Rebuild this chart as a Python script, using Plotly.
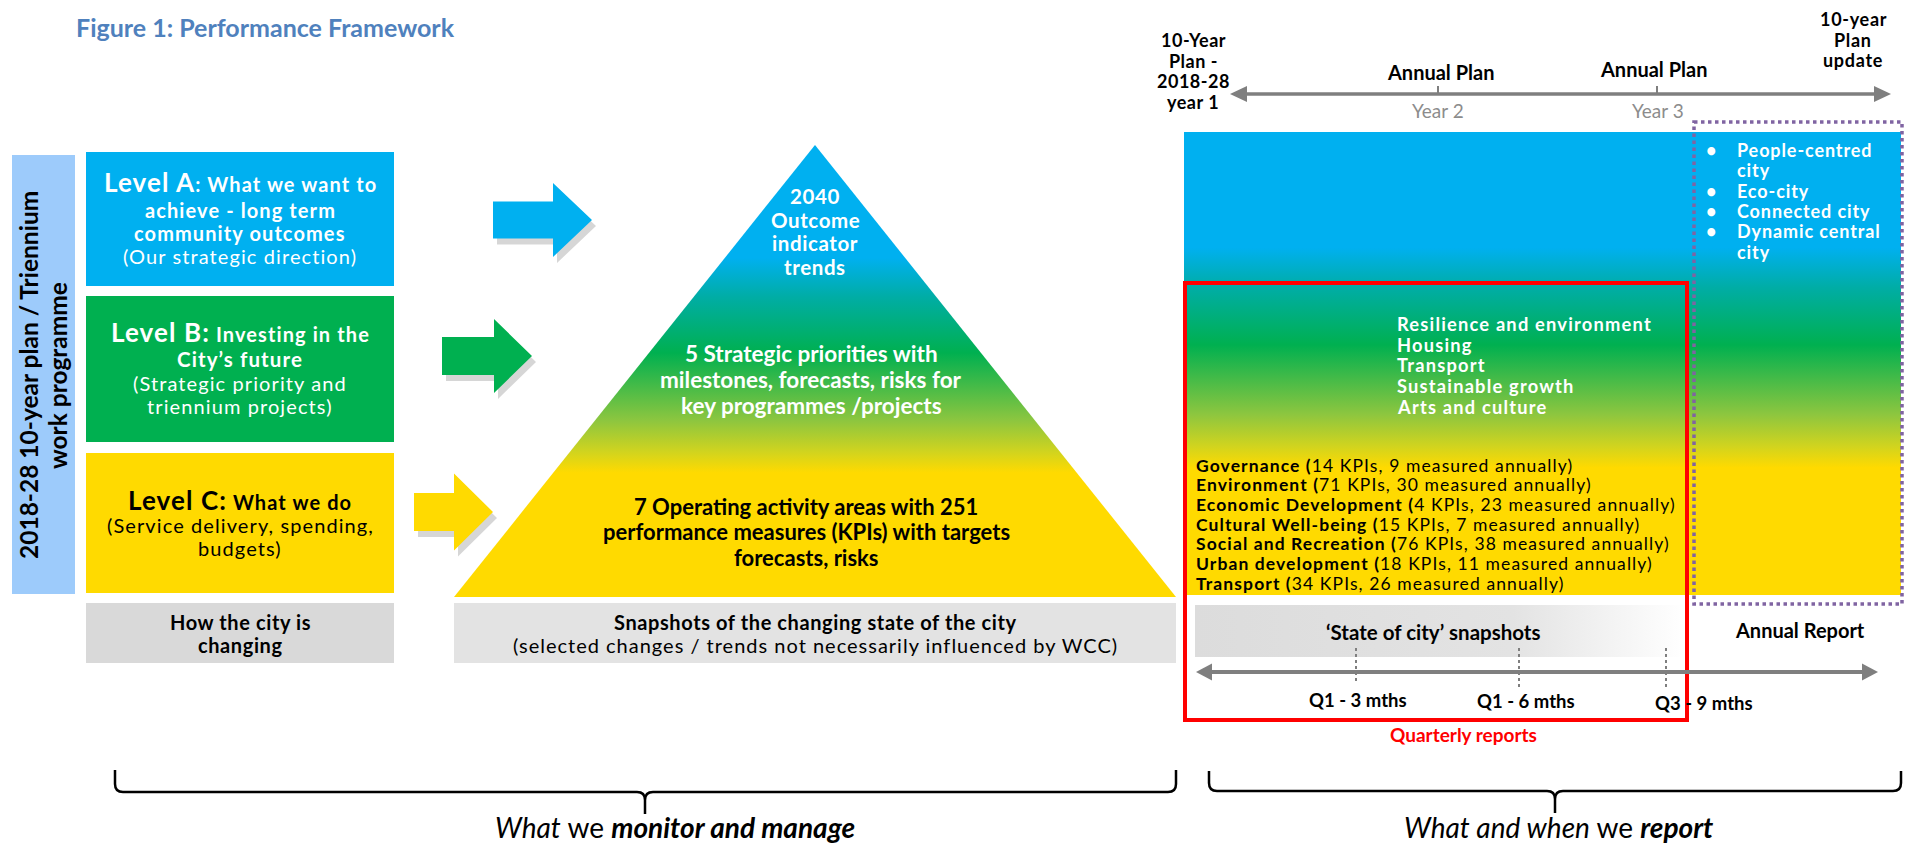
import plotly.graph_objects as go

W, H = 1905, 848
FONT = "Lato"

# ---------------- text content / values ----------------
TITLE = "Figure 1: Performance Framework"
SIDE_LABEL = ["2018-28 10-year plan / Triennium", "work programme"]

LEVEL_LABELS = ["Level A", "Level B", "Level C"]
LEVEL_A_LINES = ["What we want to", "achieve - long term", "community outcomes", "(Our strategic direction)"]
LEVEL_B_LINES = ["Investing in the", "City’s future", "(Strategic priority and", "triennium projects)"]
LEVEL_C_LINES = ["What we do", "(Service delivery, spending,", "budgets)"]
CHANGE_LINES = ["How the city is", "changing"]

PYR_TOP = ["2040", "Outcome", "indicator", "trends"]
PYR_MID = ["5 Strategic priorities with", "milestones, forecasts, risks for", "key programmes /projects"]
PYR_BOT = ["7 Operating activity areas with 251", "performance measures (KPIs) with targets", "forecasts, risks"]
SNAP_LINES = ["Snapshots of the changing state of the city",
              "(selected changes / trends not necessarily influenced by WCC)"]

PLAN_START = ["10-Year", "Plan -", "2018-28", "year 1"]
PLAN_UPDATE = ["10-year", "Plan", "update"]
ANNUAL_PLAN = ["Annual Plan", "Annual Plan"]
PLAN_YEARS = ["Year 2", "Year 3"]

OUTCOME_AREAS = [["People-centred", "city"], ["Eco-city"], ["Connected city"], ["Dynamic central", "city"]]
STRATEGIC_PRIORITIES = ["Resilience and environment", "Housing", "Transport", "Sustainable growth", "Arts and culture"]

KPI_AREAS = ["Governance", "Environment", "Economic Development", "Cultural Well-being",
             "Social and Recreation", "Urban development", "Transport"]
KPI_TOTAL = [14, 71, 4, 15, 76, 18, 34]
KPI_ANNUAL = [9, 30, 23, 7, 38, 11, 26]

STATE_LABEL = "‘State of city’ snapshots"
ANNUAL_REPORT = "Annual Report"
QUARTERS = ["Q1 - 3 mths", "Q1 - 6 mths", "Q3 - 9 mths"]
QUARTERLY = "Quarterly reports"
BOTTOM_LEFT = "<i>What</i> we <b><i>monitor and manage</i></b>"
BOTTOM_RIGHT = "<i>What and when</i> we <b><i>report</i></b>"

# ---------------- colours ----------------
BLUE, GREEN, YELLOW = "#00B0F0", "#00B050", "#FFDA00"
GREY_BOX, GREY_BOX2 = "#D9D9D9", "#E3E3E3"
SIDE_BLUE = "#9DCBFB"
AXIS_GREY = "#7F7F7F"
GRAD = [[0, BLUE], [0.25, BLUE], [0.335, "#00ADA6"], [0.46, GREEN], [0.61, "#8DC63F"],
        [0.68, "#D2D41E"], [0.725, YELLOW], [1, YELLOW]]

fig = go.Figure()


def rect(x0, y0, x1, y1, fill, line=None, lw=0, dash=None, layer="below"):
    fig.add_shape(type="rect", x0=x0, x1=x1, y0=y0, y1=y1, xref="x", yref="y",
                  fillcolor=fill, layer=layer,
                  line=dict(width=lw, color=line or "rgba(0,0,0,0)", dash=dash))


def text(t, x, y, size, color="black", anchor="center", angle=0, yanchor="middle", ls=0):
    if ls:
        t = f"<span style='letter-spacing:{ls}px'>{t}</span>"
    fig.add_annotation(x=x, y=y, xref="x", yref="y", text=t, showarrow=False,
                       xanchor=anchor, yanchor=yanchor, textangle=angle,
                       font=dict(family=FONT, size=size, color=color))


def lines(ls_, x, y0, dy, size, color="black", anchor="center", bold=False, ls=0):
    for i, l in enumerate(ls_):
        text(f"<b>{l}</b>" if bold else l, x, y0 + i * dy, size, color, anchor, ls=ls)


def poly(xs, ys, fill=None, grad=None):
    kw = {}
    if grad is not None:
        kw["fillgradient"] = grad
    else:
        kw["fillcolor"] = fill
    fig.add_trace(go.Scatter(x=xs + [xs[0]], y=ys + [ys[0]], mode="lines", fill="toself",
                             line=dict(width=0), hoverinfo="skip", showlegend=False, **kw))


def arrow(x0, xh, x1, yc, bh, hh, color):
    xs = [x0, xh, xh, x1, xh, xh, x0]
    ys = [yc - bh, yc - bh, yc - hh, yc, yc + hh, yc + bh, yc + bh]
    poly([x + 4 for x in xs], [y + 6 for y in ys], fill="rgba(0,0,0,0.16)")
    poly(xs, ys, fill=color)


def brace(x0, x1, xm, yt, ym, yb, r=8):
    p = (f"M {x0},{yt} L {x0},{ym - r} Q {x0},{ym} {x0 + r},{ym} L {xm - r},{ym} "
         f"Q {xm},{ym} {xm},{ym + r} L {xm},{yb} M {xm},{ym + r} Q {xm},{ym} {xm + r},{ym} "
         f"L {x1 - r},{ym} Q {x1},{ym} {x1},{ym - r} L {x1},{yt}")
    fig.add_shape(type="path", path=p, xref="x", yref="y", line=dict(color="black", width=2.5))


def timeline(xa, xb, y, hl, hh, lw):
    fig.add_shape(type="line", x0=xa + hl - 2, x1=xb - hl + 2, y0=y, y1=y, xref="x", yref="y",
                  line=dict(color=AXIS_GREY, width=lw), layer="above")
    for tip, base in ((xa, xa + hl), (xb, xb - hl)):
        fig.add_shape(type="path", path=f"M {tip},{y} L {base},{y - hh} L {base},{y + hh} Z",
                      xref="x", yref="y", fillcolor=AXIS_GREY, line=dict(width=0), layer="above")


# ---------------- title ----------------
text(f"<b>{TITLE}</b>", 74, 27, 25, "#4F81BD", anchor="left")

# ---------------- left column ----------------
rect(12, 155, 75, 594, SIDE_BLUE)
text(f"<b>{SIDE_LABEL[0]}</b>", 28, 375, 24.5, angle=-90)
text(f"<b>{SIDE_LABEL[1]}</b>", 57, 376, 24.5, angle=-90)

rect(86, 152, 394, 286, BLUE)
rect(86, 296, 394, 442, GREEN)
rect(86, 453, 394, 593, YELLOW)
rect(86, 603, 394, 663, GREY_BOX)

LBL = "<span style='font-size:26px'>{}</span>"
LS_BOX = 1.1
text(f"<b>{LBL.format(LEVEL_LABELS[0])}: {LEVEL_A_LINES[0]}</b>", 240, 182, 20, "white", ls=LS_BOX)
lines(LEVEL_A_LINES[1:3], 240, 210, 23, 20, "white", bold=True, ls=LS_BOX)
text(LEVEL_A_LINES[3], 240, 256, 20, "white", ls=LS_BOX)

text(f"<b>{LBL.format(LEVEL_LABELS[1] + ':')} {LEVEL_B_LINES[0]}</b>", 240, 332, 20, "white", ls=LS_BOX)
text(f"<b>{LEVEL_B_LINES[1]}</b>", 240, 359, 20.5, "white", ls=LS_BOX)
lines(LEVEL_B_LINES[2:], 240, 383, 23, 20, "white", ls=LS_BOX)

text(f"<b>{LBL.format(LEVEL_LABELS[2] + ':')} {LEVEL_C_LINES[0]}</b>", 240, 500, 20, "black", ls=LS_BOX)
lines(LEVEL_C_LINES[1:], 240, 525, 23, 20, "black", ls=LS_BOX)

lines(CHANGE_LINES, 240, 622, 23, 20, "black", bold=True, ls=0.6)

# ---------------- arrows ----------------
arrow(493, 553, 592, 220, 18.5, 37, BLUE)
arrow(442, 494, 532, 356, 19, 37, GREEN)
arrow(414, 454, 493, 512, 19, 38.5, YELLOW)

# ---------------- pyramid ----------------
poly([815, 1176, 454], [145, 597, 597],
     grad=dict(type="vertical", colorscale=GRAD, start=145, stop=597))
lines(PYR_TOP, 815, 196, 23.7, 20.5, "white", bold=True, ls=0.6)
lines(PYR_MID, 811, 353, 26, 22.5, "white", bold=True)
lines(PYR_BOT, 806, 506, 25.5, 22, "black", bold=True)

rect(454, 603, 1176, 663, GREY_BOX2)
text(f"<b>{SNAP_LINES[0]}</b>", 815, 622, 20, ls=0.6)
text(SNAP_LINES[1], 815, 645, 20, ls=1.0)

# ---------------- right: top timeline ----------------
timeline(1230, 1891, 94, 17, 8, 3.5)
for xt in (1438, 1657):
    fig.add_shape(type="line", x0=xt, x1=xt, y0=86, y1=94, xref="x", yref="y",
                  line=dict(color=AXIS_GREY, width=2), layer="above")
lines(PLAN_START, 1193, 40, 20.5, 18, bold=True, ls=0.5)
lines(PLAN_UPDATE, 1853, 19, 20.5, 18, bold=True, ls=0.7)
text(f"<b>{ANNUAL_PLAN[0]}</b>", 1440, 72, 20)
text(f"<b>{ANNUAL_PLAN[1]}</b>", 1653, 69, 20)
text(PLAN_YEARS[0], 1438, 110, 19, "#8C8C8C")
text(PLAN_YEARS[1], 1658, 110, 19, "#8C8C8C")

# ---------------- right: gradient panel ----------------
poly([1184, 1901, 1901, 1184], [132, 132, 595, 595],
     grad=dict(type="vertical", colorscale=GRAD, start=132, stop=595))

yb = 150
for item in OUTCOME_AREAS:
    text("<b>•</b>", 1711, yb, 18, "white")
    for j, l in enumerate(item):
        text(f"<b>{l}</b>", 1735, yb, 18, "white", anchor="left", ls=0.9)
        yb += 20.3

lines(STRATEGIC_PRIORITIES, 1395, 324, 20.7, 18.3, "white", anchor="left", bold=True, ls=1.2)

for i, (name, tot, ann) in enumerate(zip(KPI_AREAS, KPI_TOTAL, KPI_ANNUAL)):
    text(f"<b>{name} (</b>{tot} KPIs, {ann} measured annually)", 1194, 465 + i * 19.7, 17.5,
         anchor="left", ls=1.1)

rect(1185, 283, 1687, 720, "rgba(0,0,0,0)", line="#FF0000", lw=4, layer="above")
rect(1694, 122, 1902, 604, "rgba(0,0,0,0)", line="#8064A2", lw=3.5, dash="dot", layer="above")

# ---------------- right: reports ----------------
poly([1195, 1684, 1684, 1195], [605, 605, 657, 657],
     grad=dict(type="horizontal", colorscale=[[0, "#DCDCDC"], [0.65, "#E3E3E3"], [1, "#FFFFFF"]],
               start=1195, stop=1684))
text(f"<b>{STATE_LABEL}</b>", 1433, 632, 20.5)
text(f"<b>{ANNUAL_REPORT}</b>", 1800, 630, 20)

timeline(1196, 1878, 672, 16, 8.5, 4)
for xq, yq in ((1356, 684), (1519, 688), (1666, 687)):
    fig.add_shape(type="line", x0=xq, x1=xq, y0=648, y1=yq, xref="x", yref="y",
                  line=dict(color=AXIS_GREY, width=2, dash="dot"), layer="above")
for q, xq, yq in zip(QUARTERS, (1358, 1526, 1704), (700, 701, 703)):
    text(f"<b>{q}</b>", xq, yq, 18.5)
text(f"<b>{QUARTERLY}</b>", 1463, 734, 19, "#FF0000")

# ---------------- braces ----------------
brace(115, 1176, 645, 770, 792, 814)
brace(1209, 1901, 1555, 771, 791, 813)
text(BOTTOM_LEFT, 675, 846, 28, yanchor="bottom")
text(BOTTOM_RIGHT, 1558, 846, 28, yanchor="bottom")

fig.update_layout(
    width=W, height=H, margin=dict(l=0, r=0, t=0, b=0),
    paper_bgcolor="white", plot_bgcolor="white", showlegend=False,
    xaxis=dict(range=[0, W], visible=False, fixedrange=True),
    yaxis=dict(range=[H, 0], visible=False, fixedrange=True),
    font=dict(family=FONT),
)
fig.write_html("out.html", config={"displayModeBar": False},
               post_script="document.body.style.margin='0';document.body.style.overflow='hidden';")
